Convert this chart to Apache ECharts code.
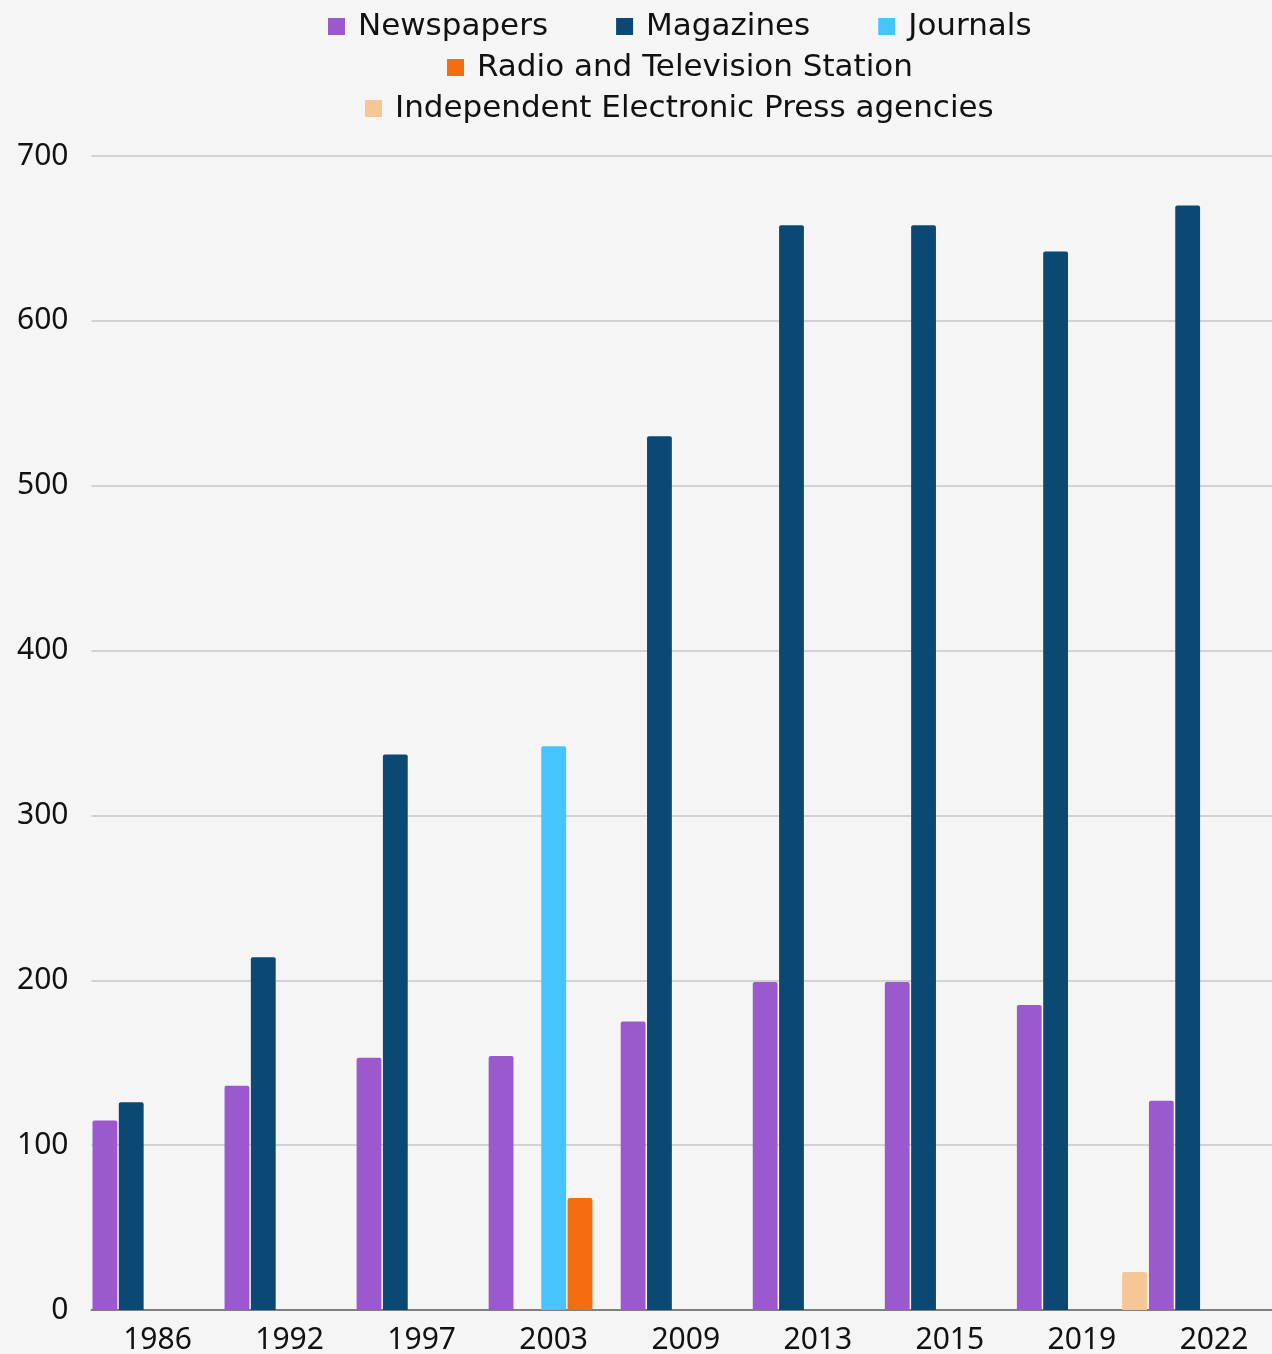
<!DOCTYPE html>
<html>
<head>
<meta charset="utf-8">
<script src="https://cdn.jsdelivr.net/npm/echarts@6/dist/echarts.min.js"></script>
<style>
  html, body { margin: 0; padding: 0; background: #f5f5f5; }
  #chart { width: 1272px; height: 1354px; }
</style>
</head>
<body>
<div id="chart"></div>
<script>
// Media outlets registered per year
const years = ['1986', '1992', '1997', '2003', '2009', '2013', '2015', '2019', '2022'];
const newspapers = [115, 136, 153, 154, 175, 199, 199, 185, 127];
const magazines = [126, 214, 337, '-', 530, 658, 658, 642, 670];
const journals = ['-', '-', '-', 342, '-', '-', '-', '-', '-'];
const radioTv = ['-', '-', '-', 68, '-', '-', '-', '-', '-'];
const pressAgencies = ['-', '-', '-', '-', '-', '-', '-', 23, '-'];
const yTicks = { min: 0, max: 700, interval: 100 };

const AXIS_FONT = '"Noto Sans", sans-serif';
const LEGEND_FONT = '"DejaVu Sans", sans-serif';
const TEXT = '#111111';

const chart = echarts.init(document.getElementById('chart'), null, { renderer: 'canvas' });

const legendBase = {
  orient: 'horizontal',
  padding: 5,
  itemWidth: 17,
  itemHeight: 17,
  itemGap: 68,
  icon: 'rect',
  textStyle: { fontFamily: LEGEND_FONT, fontSize: 31, color: TEXT, padding: [0, 0, 0, 8] }
};

function barSeries(name, data, color) {
  return {
    name: name,
    type: 'bar',
    data: data,
    barGap: '6%',
    barCategoryGap: '1.5%',
    itemStyle: { color: color, borderRadius: [2, 2, 0, 0] }
  };
}

chart.setOption({
  backgroundColor: '#f5f5f5',
  animation: false,
  // three legend rows, each centred around x ≈ 679
  legend: [
    Object.assign({}, legendBase, { left: 323, top: 6, data: ['Newspapers', 'Magazines', 'Journals'] }),
    Object.assign({}, legendBase, { left: 442, top: 47, data: ['Radio and Television Station'] }),
    Object.assign({}, legendBase, { left: 360, top: 88, data: ['Independent Electronic Press agencies'] })
  ],
  // plot area runs slightly past the right edge of the canvas
  grid: { left: 91.5, right: -8, top: 156, bottom: 44, containLabel: false, outerBoundsMode: 'none' },
  xAxis: {
    type: 'category',
    data: years,
    axisTick: { show: false },
    axisLine: { show: true, lineStyle: { color: '#7f7f7f', width: 2 } },
    axisLabel: { fontFamily: AXIS_FONT, fontSize: 30, color: TEXT, margin: 15 }
  },
  yAxis: {
    type: 'value',
    min: yTicks.min,
    max: yTicks.max,
    interval: yTicks.interval,
    axisLine: { show: false },
    axisTick: { show: false },
    splitLine: { lineStyle: { color: '#c6c6c6', width: 1.5 } },
    axisLabel: { fontFamily: AXIS_FONT, fontSize: 30, color: TEXT, margin: 23 }
  },
  series: [
    barSeries('Newspapers', newspapers, '#9b59cd'),
    barSeries('Magazines', magazines, '#0b4873'),
    barSeries('Journals', journals, '#47c3fe'),
    barSeries('Radio and Television Station', radioTv, '#f56d11'),
    barSeries('Independent Electronic Press agencies', pressAgencies, '#f6c796')
  ]
});
</script>
</body>
</html>
